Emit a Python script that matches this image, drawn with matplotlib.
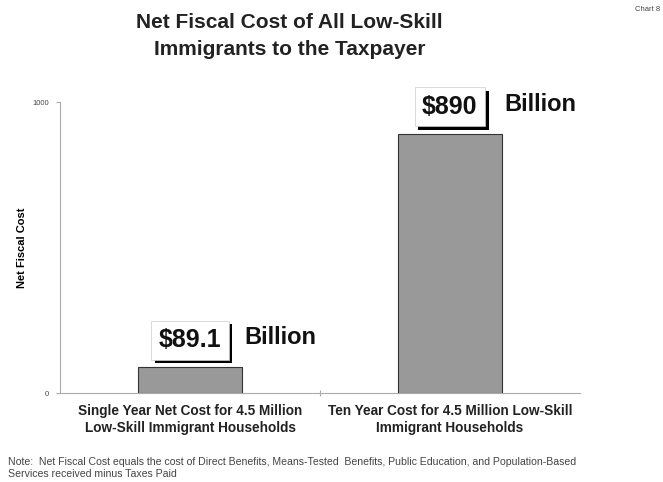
import matplotlib.pyplot as plt
import matplotlib.patheffects as pe

plt.rcParams['font.family'] = ['Liberation Sans', 'DejaVu Sans']

categories = ["Single Year Net Cost for 4.5 Million\nLow-Skill Immigrant Households",
              "Ten Year Cost for 4.5 Million Low-Skill\nImmigrant Households"]
values = [89.1, 890]
value_labels = ["$89.1", "$890"]

fig = plt.figure(figsize=(6.63, 4.82), dpi=100)
ax = fig.add_axes([0.0905, 0.1846, 0.784, 0.6037])

pos = [0.5, 1.5]
ax.bar(pos, values, width=0.4, color="#999999", edgecolor="#333333", linewidth=0.8)

ax.set_xlim(0, 2)
ax.set_ylim(0, 1000)
ax.set_yticks([0, 1000])
ax.set_yticklabels(["0", "1000"], fontsize=5.5, color="#444444")
ax.set_xticks([1])
ax.set_xticklabels([""])
ax.tick_params(axis="x", length=4, direction="inout", color="#aaaaaa")
ax.tick_params(axis="y", length=3, color="#aaaaaa", pad=5)
for s in ["top", "right"]:
    ax.spines[s].set_visible(False)
for s in ["left", "bottom"]:
    ax.spines[s].set_color("#aaaaaa")

for p, c in zip(pos, categories):
    ax.text(p, -38, c, ha="center", va="top", fontsize=9.8, fontweight="bold",
            color="#222222", linespacing=1.3)

ax.set_ylabel("Net Fiscal Cost", fontsize=8, fontweight="bold")
ax.yaxis.set_label_coords(-0.063, 0.5)

# value boxes with shadow
for p, v, lab in zip(pos, values, value_labels):
    t = ax.text(p, v + 93, lab, ha="center", va="center", fontsize=18, fontweight="bold",
                color="#111111", clip_on=False,
                bbox=dict(boxstyle="square,pad=0.3", facecolor="white", edgecolor="#cccccc", linewidth=0.5))
    t.get_bbox_patch().set_path_effects([pe.withSimplePatchShadow(offset=(2.5, -2.5), shadow_rgbFace="black", alpha=1)])
    ax.text(p + 0.21, v + 101, "Billion", ha="left", va="center", fontsize=17,
            fontweight="bold", color="#111111", clip_on=False)

fig.text(0.437, 0.972, "Net Fiscal Cost of All Low-Skill\nImmigrants to the Taxpayer",
         ha="center", va="top", fontsize=15, fontweight="bold", color="#222222", linespacing=1.5)
fig.text(0.995, 0.988, "Chart 8", ha="right", va="top", fontsize=5.5, color="#444444")

fig.text(0.012, 0.052, "Note:  Net Fiscal Cost equals the cost of Direct Benefits, Means-Tested  Benefits, Public Education, and Population-Based\nServices received minus Taxes Paid",
         ha="left", va="top", fontsize=7.6, color="#444444", linespacing=1.3)

fig.savefig("out.png", dpi=100)
